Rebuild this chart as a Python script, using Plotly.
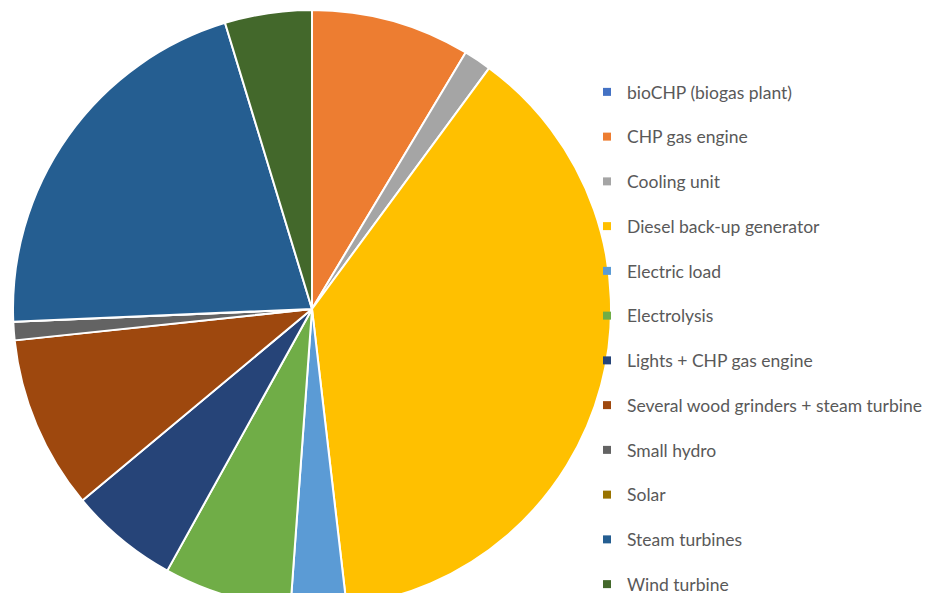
import plotly.graph_objects as go

labels = ["bioCHP (biogas plant)", "CHP gas engine", "Cooling unit", "Diesel back-up generator",
          "Electric load", "Electrolysis", "Lights + CHP gas engine",
          "Several wood grinders + steam turbine", "Small hydro", "Solar",
          "Steam turbines", "Wind turbine"]
values = [0, 8.6, 1.5, 38.1, 3.0, 6.9, 5.9, 9.4, 1.0, 0, 21.0, 4.7]
colors = ["#4472C4", "#ED7D31", "#A5A5A5", "#FFC000", "#5B9BD5", "#70AD47", "#264478",
          "#9E480E", "#636363", "#997300", "#255E91", "#43682B"]

W, H = 930, 600
T = 2
fig = go.Figure()
fig.add_trace(go.Pie(
    labels=labels, values=values, sort=False, direction="clockwise", rotation=0,
    marker=dict(colors=colors, line=dict(color="white", width=2)),
    textinfo="none", showlegend=False,
    domain=dict(x=[5 / W, 603 / W], y=[0, 1]),
))
for i, (lab, col) in enumerate(zip(labels, colors)):
    fig.add_trace(go.Scatter(
        x=[None], y=[None], mode="markers", name=lab,
        marker=dict(symbol="square", size=8, color=col),
        legendgroup=str(i), showlegend=True,
    ))
fig.update_layout(
    width=W, height=H,
    margin=dict(l=0, r=0, t=T, b=0),
    paper_bgcolor="white", plot_bgcolor="white",
    xaxis=dict(visible=False), yaxis=dict(visible=False),
    font=dict(family="Lato", color="#595959", size=17.5),
    legend=dict(x=0.6226, y=1 - (66 - T) / (H - T), xanchor="left", yanchor="top",
                bgcolor="rgba(0,0,0,0)", tracegroupgap=19,
                font=dict(size=17.5, color="#595959")),
)
fig.write_html("out.html")
